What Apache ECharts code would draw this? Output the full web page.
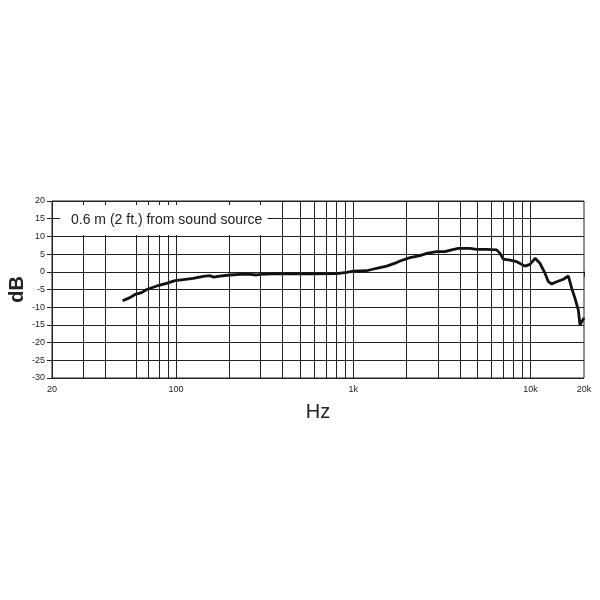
<!DOCTYPE html>
<html>
<head>
<meta charset="utf-8">
<script src="https://cdn.jsdelivr.net/npm/echarts@6/dist/echarts.min.js"></script>
<style>html,body{margin:0;padding:0;background:#fff;}#c{width:600px;height:600px;}</style>
</head>
<body>
<div id="c"></div>
<script>
// Frequency (Hz) and response (dB)
const freqs = [50, 55, 58.8, 64, 68.4, 78, 88.6, 98.8, 110, 125, 142.6, 155.7, 163, 177, 201.7, 229.7, 261.7, 285, 300, 350, 421, 430, 445, 600, 806, 918, 1000, 1190, 1355, 1542, 1757, 1834, 2089, 2378, 2594, 2953, 3289, 3589, 3910, 4550, 4966, 5651, 6437, 6720, 7010, 7650, 8350, 9300, 9920, 10590, 11290, 12050, 12590, 13150, 14030, 15300, 16330, 17060, 17800, 18580, 18980, 19400, 20000];
const dB = [-8.2, -7.3, -6.4, -5.9, -5.0, -4.0, -3.25, -2.5, -2.2, -1.85, -1.3, -1.1, -1.5, -1.2, -0.9, -0.7, -0.7, -0.9, -0.7, -0.6, -0.6, -1.0, -0.6, -0.6, -0.5, -0.15, 0.2, 0.3, 1.0, 1.6, 2.6, 3.05, 4.0, 4.55, 5.2, 5.7, 5.7, 6.2, 6.6, 6.6, 6.35, 6.35, 6.2, 5.2, 3.6, 3.3, 2.85, 1.6, 2.1, 3.8, 2.4, -0.4, -2.8, -3.45, -2.8, -2.1, -1.2, -4.7, -7.5, -10.8, -15, -14.5, -13];
// Vertical grid line frequencies
const gridFreqs = [30, 40, 60, 70, 80, 90, 100, 200, 300, 400, 500, 600, 700, 800, 900, 1000, 2000, 3000, 4000, 5000, 6000, 7000, 8000, 9000, 10000];
const xTickLabels = {20: '20', 100: '100', 1000: '1k', 10000: '10k', 20000: '20k'};
const noteText = '0.6 m (2 ft.) from sound source';

const chart = echarts.init(document.getElementById('c'), null, {renderer: 'canvas'});
const font = 'Liberation Sans, Arial, Helvetica, sans-serif';
chart.setOption({
  animation: false,
  backgroundColor: '#fff',
  title: {
    text: noteText,
    left: 60, top: 205,
    padding: [8, 5, 8, 11],
    backgroundColor: '#fff',
    textStyle: {fontSize: 14, fontWeight: 'normal', color: '#222', fontFamily: font}
  },
  grid: {left: 52, right: 16, top: 201, bottom: 222, containLabel: false, outerBoundsMode: 'none',
    show: true, borderColor: '#222', borderWidth: 1, backgroundColor: '#fff'},
  xAxis: {
    type: 'log', logBase: 10, min: 20, max: 20000,
    name: 'Hz', nameLocation: 'middle', nameGap: 24, nameMoveOverlap: false,
    nameTextStyle: {fontSize: 20, color: '#222', fontFamily: font},
    axisLine: {show: true, lineStyle: {color: '#222', width: 1}},
    axisTick: {show: true, length: 5, lineStyle: {color: '#222', width: 1}},
    axisLabel: {fontSize: 9, color: '#222', margin: 7, fontFamily: font, showMinLabel: true, showMaxLabel: true,
      formatter: v => xTickLabels[Math.round(v)] || ''},
    splitLine: {show: false},
    minorTick: {show: false}
  },
  yAxis: {
    type: 'value', min: -30, max: 20, interval: 5,
    name: 'dB', nameLocation: 'middle', nameGap: 25, nameRotate: 90, nameMoveOverlap: false,
    nameTextStyle: {fontSize: 20, fontWeight: 'bold', color: '#222', fontFamily: font},
    axisLine: {show: true, lineStyle: {color: '#222', width: 1}},
    axisTick: {show: true, length: 5, lineStyle: {color: '#222'}},
    axisLabel: {fontSize: 9, color: '#222', margin: 7, fontFamily: font},
    splitLine: {show: true, lineStyle: {color: '#222', width: 1}}
  },
  series: [
    {
      type: 'line', data: [], z: 1, silent: true,
      markLine: {
        silent: true, symbol: ['none', 'none'], label: {show: false},
        lineStyle: {color: '#222', width: 1, type: 'solid'},
        data: gridFreqs.map(f => ({xAxis: f}))
      }
    },
    {
      type: 'line', z: 3,
      data: freqs.map((f, i) => [f, dB[i]]),
      showSymbol: false, smooth: false,
      lineStyle: {color: '#111', width: 2.8}
    }
  ]
});
</script>
</body>
</html>
